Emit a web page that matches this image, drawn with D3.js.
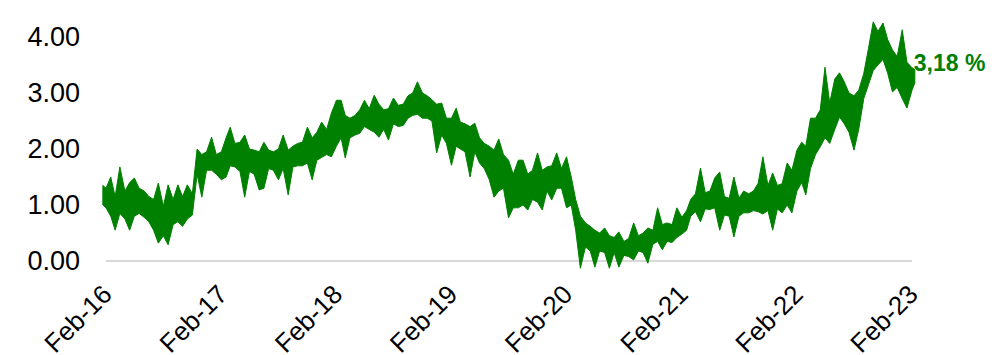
<!DOCTYPE html>
<html>
<head>
<meta charset="utf-8">
<script src="https://cdn.jsdelivr.net/npm/d3@7"></script>
<style>
  html, body { margin: 0; padding: 0; background: #fff; }
  svg { display: block; }
  text { font-family: "Liberation Sans", Arial, sans-serif; }
</style>
</head>
<body>
<svg id="chart" width="997" height="355"></svg>
<script>
// ---- DATA ----
// first and last observation dates; in between, observations on the 1st and 16th of each month (Feb 2016 - Feb 2023)
const firstDate = "2016-01-22";
const lastDate = "2023-02-10";
const gridStart = "2016-02-01";
const gridEnd = "2023-02-01";

// upper edge of the daily band (%)
const hi = [
  1.35,
  1.30,1.50,1.15,1.68,1.25,1.40,1.48,1.30,1.25,1.15,1.10,1.39,0.98,1.36,1.10,1.36,1.15,1.36,1.20,2.00,1.90,1.95,2.21,1.90,
  1.95,2.20,2.39,2.10,2.12,2.25,2.00,1.98,1.95,2.12,1.98,1.95,2.00,2.25,1.98,2.05,2.10,2.12,2.39,2.20,2.30,2.48,2.35,2.64,
  2.87,2.87,2.60,2.55,2.60,2.70,2.87,2.72,2.96,2.80,2.70,2.72,2.91,2.78,2.80,2.95,3.00,3.20,3.00,2.95,2.88,2.80,2.82,2.55,
  2.55,2.73,2.48,2.45,2.40,2.46,2.20,2.10,2.05,1.98,2.18,1.90,1.80,1.55,1.80,1.80,1.55,1.62,1.93,1.62,1.68,1.70,1.93,1.65,
  1.86,1.50,1.10,0.80,0.68,0.62,0.55,0.50,0.59,0.45,0.42,0.52,0.35,0.40,0.68,0.45,0.50,0.59,0.55,0.95,0.65,0.68,0.65,0.95,
  0.78,0.90,1.10,1.20,1.66,1.22,1.25,1.48,1.59,1.15,1.12,1.50,1.12,1.25,1.20,1.25,1.39,1.86,1.35,1.57,1.35,1.38,1.75,1.62,
  1.98,2.12,2.05,2.55,2.55,2.70,3.46,2.82,3.25,3.36,3.20,3.00,2.95,3.05,3.35,3.80,4.27,4.10,4.25,3.95,3.77,3.65,4.13,3.55,
  3.45,
  3.42
];
// lower edge of the daily band (%)
const lo = [
  1.00,
  0.95,0.80,0.55,0.85,0.75,0.55,0.80,0.85,0.78,0.70,0.55,0.32,0.45,0.29,0.65,0.70,0.62,0.75,0.82,1.55,1.14,1.62,1.62,1.55,
  1.45,1.50,1.70,1.68,1.60,1.14,1.60,1.55,1.27,1.30,1.65,1.62,1.45,1.65,1.18,1.68,1.70,1.70,1.75,1.45,1.80,1.85,1.90,1.86,
  2.05,2.20,1.84,2.20,2.25,2.28,2.40,2.35,2.30,2.21,2.35,2.16,2.45,2.40,2.42,2.55,2.60,2.62,2.55,2.55,2.50,1.93,2.25,2.10,
  1.71,2.05,2.00,1.95,1.50,1.95,1.75,1.65,1.45,1.14,1.25,1.30,0.77,0.95,0.95,1.00,0.91,1.10,1.05,0.91,1.25,1.09,1.30,1.30,
  0.95,1.00,0.55,-0.13,0.25,0.18,-0.11,0.18,0.15,-0.13,0.15,-0.11,0.10,0.08,0.02,0.18,0.15,-0.04,0.30,0.35,0.20,0.35,0.33,0.42,
  0.48,0.55,0.80,0.88,0.70,0.93,0.92,0.95,0.55,0.82,0.80,0.43,0.80,0.86,0.86,0.90,0.88,0.84,0.90,0.55,0.93,0.86,1.00,0.86,
  1.25,1.40,1.18,1.65,1.90,2.04,2.20,2.10,2.35,2.57,2.45,2.30,1.98,2.35,2.90,3.15,3.40,3.50,3.60,3.35,3.02,3.10,2.90,2.73,
  3.05,
  3.18
];
const lastValue = 3.18;
const lastLabel = "3,18 %";
const yTicks = [0, 1, 2, 3, 4];
const xTickDates = ["2016-02-01","2017-02-01","2018-02-01","2019-02-01","2020-02-01","2021-02-01","2022-02-01","2023-02-01"];

// ---- BUILD ----
const parse = d3.utcParse("%Y-%m-%d");
const dates = [parse(firstDate)];
const months = d3.utcMonth.range(parse(gridStart), d3.utcDay.offset(parse(gridEnd), 1));
months.forEach((m, i) => {
  dates.push(m);
  if (i < months.length - 1) dates.push(d3.utcDay.offset(m, 15));
});
dates.push(parse(lastDate));
const data = dates.map((d, i) => ({ date: d, hi: hi[i], lo: lo[i] }));

const green = "#008000";
const svg = d3.select("#chart");

const x = d3.scaleUtc().domain([parse(gridStart), parse(gridEnd)]).range([106, 912]);
const y = d3.scaleLinear().domain([0, 4]).range([261, 37]);

// baseline
svg.append("line")
  .attr("x1", x.range()[0]).attr("x2", x.range()[1])
  .attr("y1", y(0)).attr("y2", y(0))
  .attr("stroke", "#d9d9d9").attr("stroke-width", 2);

// band
const area = d3.area()
  .x(d => x(d.date))
  .y0(d => y(d.lo))
  .y1(d => y(d.hi));
svg.append("path")
  .datum(data)
  .attr("d", area)
  .attr("fill", green)
  .attr("stroke", green)
  .attr("stroke-width", 1)
  .attr("stroke-linejoin", "miter");

// y axis
const yAxis = d3.axisLeft(y).tickValues(yTicks).tickFormat(d3.format(".2f")).tickSize(0).tickPadding(0);
const gy = svg.append("g").attr("transform", "translate(80,0)").call(yAxis);
gy.select(".domain").remove();
gy.selectAll("text")
  .attr("font-size", 27)
  .attr("fill", "#000")
  .attr("font-family", "Liberation Sans, Arial, sans-serif");

// x axis
const xAxis = d3.axisBottom(x).tickValues(xTickDates.map(parse)).tickFormat(d3.utcFormat("%b-%y")).tickSize(0);
const gx = svg.append("g").attr("transform", `translate(0,${y(0)})`).call(xAxis);
gx.select(".domain").remove();
gx.selectAll("text")
  .attr("font-size", 26)
  .attr("fill", "#000")
  .attr("font-family", "Liberation Sans, Arial, sans-serif")
  .attr("text-anchor", "end")
  .attr("dy", 0)
  .attr("y", 0)
  .attr("transform", "translate(7,35) rotate(-45)");

// end label
svg.append("text")
  .attr("x", x(parse(lastDate)) - 1)
  .attr("y", y(lastValue) - 12)
  .attr("fill", green)
  .attr("font-weight", "bold")
  .attr("font-size", 23)
  .text(lastLabel);
</script>
</body>
</html>
